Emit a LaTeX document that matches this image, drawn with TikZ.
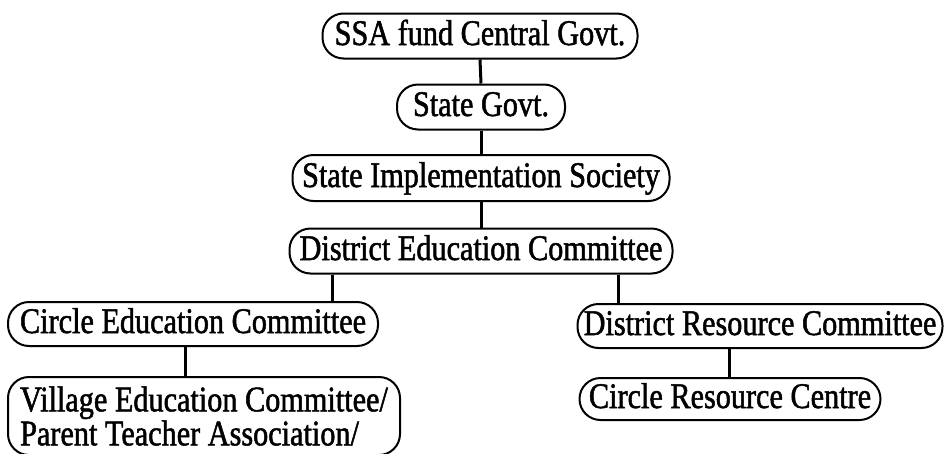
\documentclass[tikz,border=0pt]{standalone}
\usepackage{fontspec}
\setmainfont{Liberation Serif}[FakeStretch=0.84,FakeBold=1.4]
\begin{document}
\begin{tikzpicture}[x=1pt,y=-1pt,
  unit/.style={draw=black, line width=2pt, rounded corners=21pt,
    inner sep=0pt, font=\fontsize{36}{36}\selectfont,
    text height=25pt, text depth=7pt},
  link/.style={draw=black, line width=3pt}]
  \useasboundingbox (0,0) rectangle (948,453);

  % organisation levels
  \node[unit, minimum width=315pt, minimum height=45pt] (ssa)  at (480,36)  {SSA fund Central Govt.};
  \node[unit, minimum width=168pt, minimum height=45pt] (sg)   at (481,107) {State Govt.};
  \node[unit, minimum width=377pt, minimum height=46pt] (sis)  at (481,178) {State Implementation Society};
  \node[unit, minimum width=383pt, minimum height=45pt] (dec)  at (481,251) {District Education Committee};
  \node[unit, minimum width=370pt, minimum height=44pt] (cec)  at (193,324) {Circle Education Committee};
  \node[unit, minimum width=365pt, minimum height=44pt] (drc)  at (760,326) {District Resource Committee};
  \node[unit, minimum width=392pt, minimum height=78pt, align=left,
        font=\fontsize{36}{34}\selectfont, text height=, text depth=] (vec) at (204,416)
        {Village Education Committee/\\Parent Teacher Association/};
  \node[unit, minimum width=301pt, minimum height=42pt] (crc)  at (730,399) {Circle Resource Centre};

  % reporting lines
  \draw[link] (ssa.south) -- (sg.north);
  \draw[link] (sg.south) -- (sis.north);
  \draw[link] (sis.south) -- (dec.north);
  \draw[link] (dec.south -| 332,0) -- (cec.north -| 332,0);
  \draw[link] (dec.south -| 618,0) -- (drc.north -| 618,0);
  \draw[link] (cec.south -| 185,0) -- (vec.north -| 185,0);
  \draw[link] (drc.south -| 729,0) -- (crc.north -| 729,0);
\end{tikzpicture}
\end{document}
